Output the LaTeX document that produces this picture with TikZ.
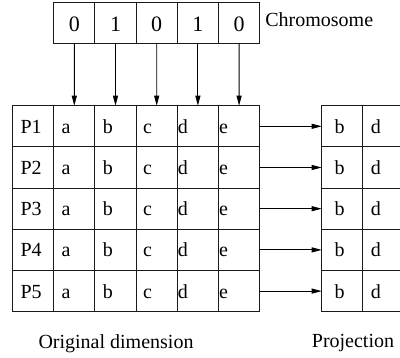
\documentclass[tikz,border=0pt]{standalone}
\usepackage{fontspec}
\setmainfont{Liberation Serif}
\usetikzlibrary{arrows.meta,positioning}

\begin{document}
\begin{tikzpicture}[x=1pt,y=-1pt]
		\tikzstyle{cell}=[draw=black!90, line width=0.9pt, minimum width=41.2pt, minimum height=41.2pt, inner ysep=0pt, outer sep=0pt, text height=14pt, text depth=0pt, align=left, font=\fontsize{20}{24}\selectfont]
		\tikzstyle{gene}=[cell, inner xsep=0pt, text width=41.2pt, text height=18pt, align=center, font=\fontsize{22}{26}\selectfont]
		\tikzstyle{link}=[line width=0.9pt, -{Triangle[length=10pt,width=5pt]}]
		\tikzstyle{caption}=[anchor=base, inner sep=0pt, font=\fontsize{20}{24}\selectfont]

		\useasboundingbox (0,0) rectangle (400,358);

		% chromosome
		\node [gene] (g1) at (74.3,22.6) {0};
		\foreach \bit [count=\j from 2, evaluate=\j as \k using int(\j-1)] in {1,0,1,0}
			\node [gene] (g\j) [right=0pt of g\k] {\bit};
		\node (chromo) [caption, anchor=base west] at ([xshift=5.5pt,yshift=5pt]g5.base east) {Chromosome};

		% original dimension
		\foreach \i in {1,...,5} {
			\pgfmathsetmacro\ymid{126.3+41.2*(\i-1)}
			\node [cell, inner xsep=8pt, text width=25.2pt] (P\i) at (33.1,\ymid) {P\i};
			\node [cell, inner xsep=8pt, text width=25.2pt] (a\i) [right=0pt of P\i] {a};
			\node [cell, inner xsep=8pt, text width=25.2pt] (b\i) [right=0pt of a\i] {b};
			\node [cell, inner xsep=7pt, text width=27.2pt] (c\i) [right=0pt of b\i] {c};
			\node [cell, inner xsep=0.6pt, text width=40pt] (d\i) [right=0pt of c\i] {d};
			\node [cell, inner xsep=0.6pt, text width=40pt] (e\i) [right=0pt of d\i] {e};

			% projection
			\node [cell, inner xsep=13pt, text width=15.2pt] (pb\i) at (342.3,\ymid) {b};
			\node [cell, inner xsep=8pt, text width=25.2pt] (pd\i) [right=0pt of pb\i] {d};

			\draw [link] (e\i.east) -- (pb\i.west);
		}

		\foreach \col [count=\j] in {a,b,c,d,e}
			\draw [link] (g\j.south) -- (\col1.north);

		\node (orig) [caption] at (116,348.3) {Original dimension};
		\node (proj) [caption] at (353,347.7) {Projection};

	\end{tikzpicture}
\end{document}
